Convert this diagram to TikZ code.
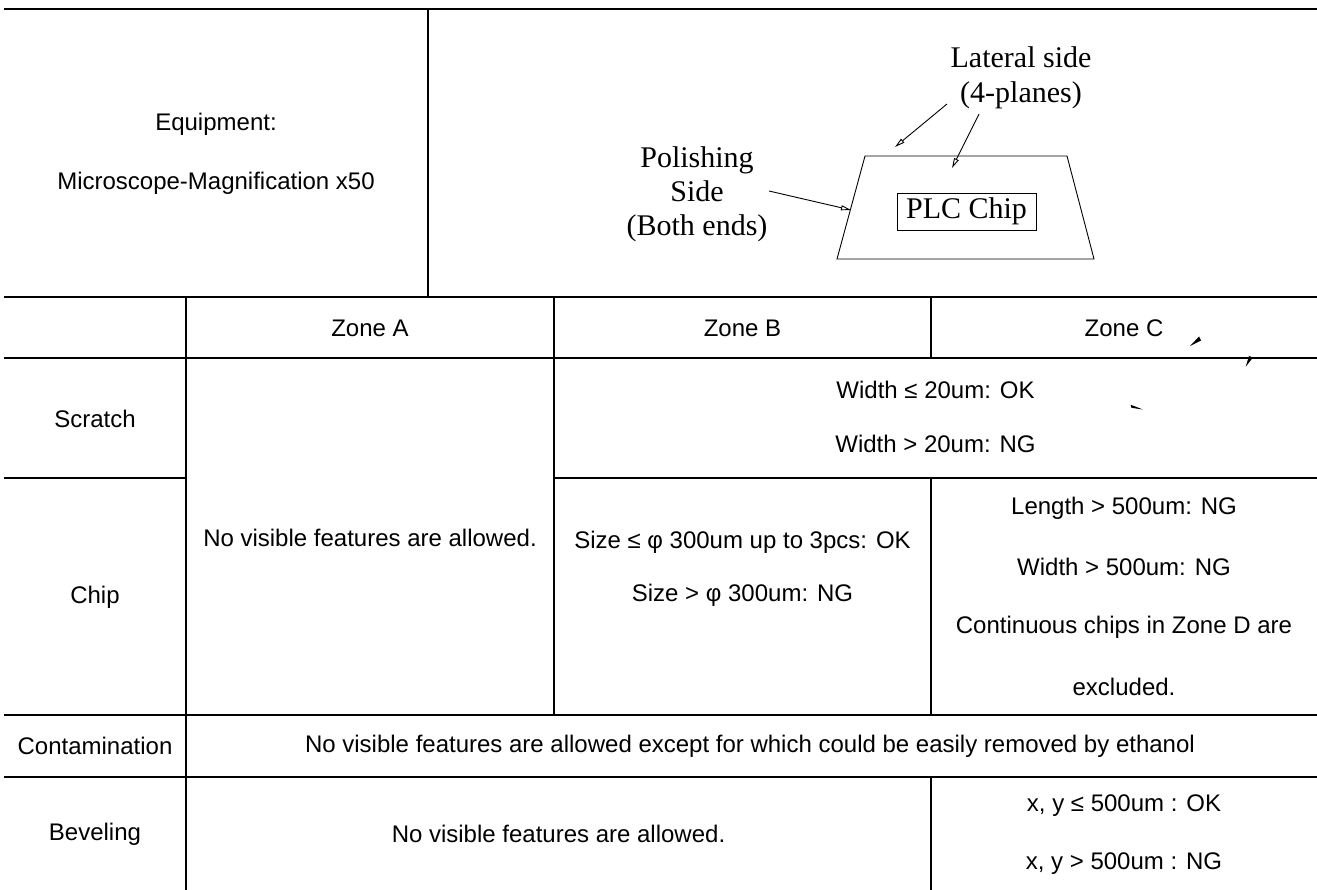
\documentclass[tikz,border=0pt]{standalone}
\usepackage{fontspec}
\setmainfont{Liberation Sans}
\newfontfamily\seriffont{Liberation Serif}
\usetikzlibrary{arrows.meta}
\begin{document}
\begin{tikzpicture}[x=1pt,y=-1pt,
  grid/.style={line width=2pt, black},
  cell/.style={font=\fontsize{24}{28}\selectfont, inner sep=0pt, anchor=center},
  lbl/.style={font=\seriffont\fontsize{30}{35}\selectfont, align=center, inner sep=0pt},
  thinline/.style={line width=0.9pt},
  arr/.style={thinline, -{Triangle[open,length=10pt,width=5pt]}},
  sliver/.style={fill=black, draw=none}]
\useasboundingbox (0,0) rectangle (1317,890);
% table grid
\draw[grid] (4,9.5) -- (1317,9.5);
\draw[grid] (428,9.5) -- (428,297);
\draw[grid] (4,297) -- (1317,297);
\draw[grid] (4,358) -- (1317,358);
\draw[grid] (4,478) -- (186,478);
\draw[grid] (554,478) -- (1317,478);
\draw[grid] (4,715) -- (1317,715);
\draw[grid] (4,777) -- (1317,777);
\draw[grid] (186,297) -- (186,890);
\draw[grid] (554,297) -- (554,715);
\draw[grid] (931,297) -- (931,358);
\draw[grid] (931,478) -- (931,715);
\draw[grid] (931,777) -- (931,890);
% top-left cell
\node[cell] (equip) at (216,124) {Equipment:};
\node[cell] (micro) at (216,183) {Microscope-Magnification x50};
% figure
\draw[thinline] (865,156) -- (1067,156) -- (1094,259) -- (837,259) -- cycle;
\node[lbl, draw, line width=0.8pt, minimum width=139pt, minimum height=37pt] (plc) at (966.5,211.5) {PLC Chip};
\node[lbl] (lat) at (1021,78) {Lateral side\\(4-planes)};
\node[lbl] (pol) at (697,194) {Polishing\\[-1pt]Side\\[-1pt](Both ends)};
\coordinate (a1s) at (947,104);
\coordinate (a1e) at (895,147);
\coordinate (a2s) at (979,114);
\coordinate (a2e) at (952,168);
\coordinate (a3s) at (769,191);
\coordinate (a3e) at (851,210);
\draw[arr] (a1s) -- (a1e);
\draw[arr] (a2s) -- (a2e);
\draw[arr] (a3s) -- (a3e);
% header row
\node[cell] (za) at (370,328) {Zone A};
\node[cell] (zb) at (742.5,328) {Zone B};
\node[cell] (zc) at (1124,328) {Zone C};
% stray marks
\fill[sliver] (1190,346) -- (1199,336.5) -- (1201,340.5) -- cycle;
\fill[sliver] (1245.7,366.7) -- (1249,356) -- (1253,357.5) -- cycle;
\fill[sliver] (1130.5,404.7) -- (1131.5,407.8) -- (1143,409.5) -- cycle;
% row labels
\node[cell] (scr) at (95,419) {Scratch};
\node[cell] (chp) at (95,597) {Chip};
\node[cell] (con) at (95,746) {Contamination};
\node[cell] (bev) at (95,834) {Beveling};
% scratch row
\node[cell] (s1) at (935.5,390) {Width ≤ 20um: OK};
\node[cell] (s2) at (935.5,444) {Width > 20um: NG};
% zone A merged
\node[cell] (na) at (370,538) {No visible features are allowed.};
% chip row zone B
\node[cell] (b1) at (742.5,542) {Size ≤ φ 300um up to 3pcs: OK};
\node[cell] (b2) at (742.5,595) {Size > φ 300um: NG};
% chip row zone C
\node[cell] (c1) at (1124,508) {Length > 500um: NG};
\node[cell] (c2) at (1124,567) {Width > 500um: NG};
\node[cell] (c3) at (1124,627) {Continuous chips in Zone D are};
\node[cell] (c4) at (1124,687) {excluded.};
% contamination
\node[cell] (cn) at (750,746) {No visible features are allowed except for which could be easily removed by ethanol};
% beveling
\node[cell] (bv) at (558.5,834) {No visible features are allowed.};
\node[cell] (bv1) at (1124,806) {x, y ≤ 500um : OK};
\node[cell] (bv2) at (1124,864) {x, y > 500um : NG};
\end{tikzpicture}
\end{document}
